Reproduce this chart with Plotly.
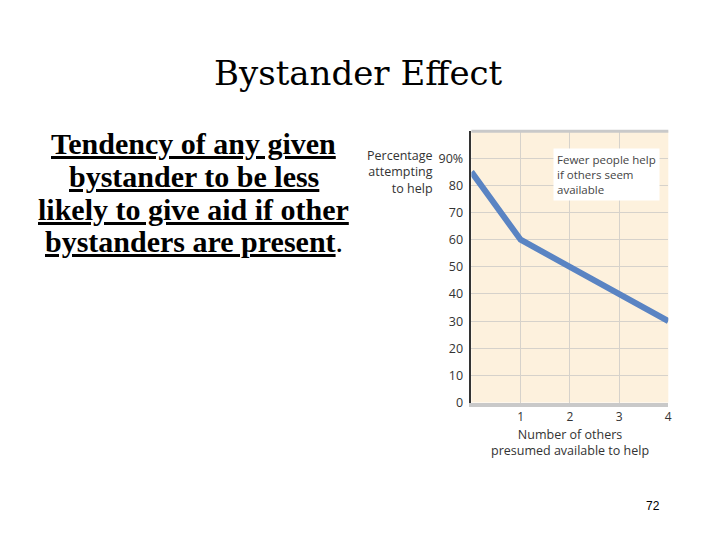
import plotly.graph_objects as go

others = [0, 1, 2, 3, 4]
pct_helping = [85, 60, 50, 40, 30]
y_tick_vals = [0, 10, 20, 30, 40, 50, 60, 70, 80, 90]
y_tick_text = ["0", "10", "20", "30", "40", "50", "60", "70", "80", "90%"]
x_tick_vals = [1, 2, 3, 4]
x_tick_text = ["1", "2", "3", "4"]
body_lines = ["Tendency of any given", "bystander to be less",
              "likely to give aid if other", "bystanders are present"]

W, H = 720, 540
x0, x1 = 466 / W, 664 / W
y0, y1 = 1 - 400.5 / H, 1 - 125 / H

fig = go.Figure()
fig.add_trace(go.Scatter(
    x=others, y=pct_helping, mode="lines",
    line=dict(color="#5a84c3", width=6),
    cliponaxis=True, showlegend=False, hoverinfo="skip"))

axfont = dict(family="Open Sans, Lato, sans-serif", size=12.5, color="#333333")
xfont = dict(family="Open Sans, Lato, sans-serif", size=12, color="#333333")
fig.update_layout(
    width=W, height=H, margin=dict(l=0, r=0, t=0, b=0),
    paper_bgcolor="white", plot_bgcolor="#fdf1dd",
    xaxis=dict(domain=[x0, x1], range=[0, 4], tickvals=x_tick_vals, ticktext=x_tick_text,
               showgrid=True, gridcolor="#d6d2cb", gridwidth=1, zeroline=False,
               showline=True, linecolor="#c9c9c9", linewidth=4,
               ticks="", tickfont=xfont, ticklabelstandoff=0),
    yaxis=dict(domain=[y0, y1], range=[0, 100], tickvals=y_tick_vals, ticktext=y_tick_text,
               showgrid=True, gridcolor="#d6d2cb", gridwidth=1, zeroline=False,
               showline=True, linecolor="#333333", linewidth=1.5,
               ticks="", tickfont=axfont, ticklabelstandoff=4),
    shapes=[dict(type="line", xref="paper", yref="paper", x0=x0, x1=x1, y0=y1, y1=y1,
                 line=dict(color="#c9c9c9", width=3))],
)

fig.add_annotation(xref="paper", yref="paper", x=548 / W, y=1 - 142 / H,
                   xanchor="left", yanchor="top", align="left", showarrow=False,
                   bgcolor="white", borderpad=3,
                   text="Fewer people help<br>if others seem<br>available",
                   font=dict(family="Open Sans, Lato, sans-serif", size=11.5, color="#444444"))
fig.add_annotation(xref="paper", yref="paper", x=429 / W, y=1 - 139 / H,
                   xanchor="right", yanchor="top", align="right", showarrow=False,
                   text="Percentage<br>attempting<br>to help",
                   font=dict(family="Open Sans, Lato, sans-serif", size=12.5, color="#333333"))
fig.add_annotation(xref="paper", yref="paper", x=565 / W, y=1 - 423 / H,
                   xanchor="center", yanchor="top", align="center", showarrow=False,
                   borderpad=0,
                   text="Number of others<br>presumed available to help",
                   font=dict(family="Open Sans, Lato, sans-serif", size=12.5, color="#333333"))

fig.add_annotation(xref="paper", yref="paper", x=352 / W, y=1 - 66 / H,
                   xanchor="center", yanchor="middle", showarrow=False,
                   text="Bystander Effect",
                   font=dict(family="DejaVu Serif, serif", size=34, color="black"))

u = '<span style="text-decoration:underline">'
centers = [138, 171, 205, 237]
for i, (ln, cy) in enumerate(zip(body_lines, centers)):
    txt = f"<b>{u}{ln}</span></b>" + ("." if i == len(body_lines) - 1 else "")
    fig.add_annotation(xref="paper", yref="paper", x=187 / W, y=1 - cy / H,
                       xanchor="center", yanchor="middle", showarrow=False,
                       text=txt,
                       font=dict(family="Liberation Serif, serif", size=30, color="black"))

fig.add_annotation(xref="paper", yref="paper", x=649 / W, y=1 - 505 / H,
                   xanchor="center", yanchor="middle", showarrow=False,
                   text="72", font=dict(family="Liberation Sans, sans-serif", size=12, color="black"))

fig.write_html("out.html")
